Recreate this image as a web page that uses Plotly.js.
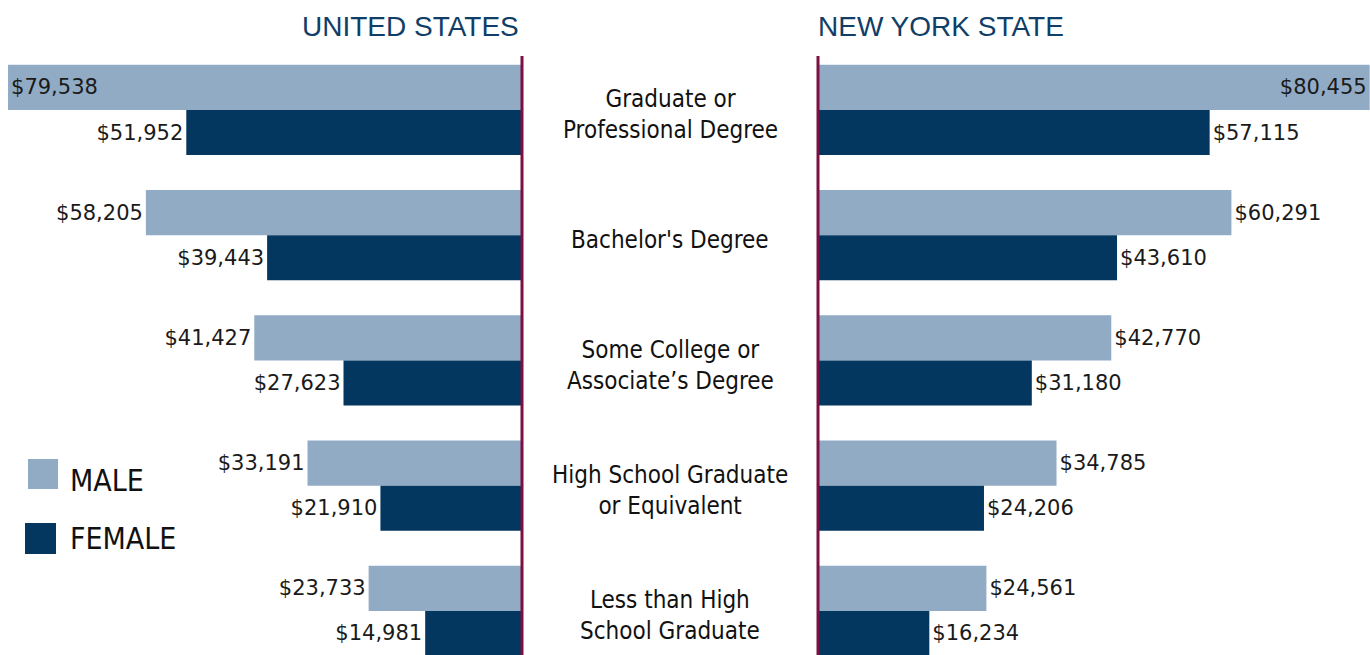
<!DOCTYPE html>
<html>
<head>
<meta charset="utf-8">
<script src="https://cdn.plot.ly/plotly-3.0.1.min.js"></script>
<style>html,body{margin:0;padding:0;background:#fff;}#chart{width:1370px;height:655px;}</style>
</head>
<body>
<div id="chart"></div>
<script>
const categories = ['Graduate or Professional Degree', "Bachelor's Degree", 'Some College or Associate’s Degree', 'High School Graduate or Equivalent', 'Less than High School Graduate'];
const categoryLabels = ['Graduate or<br>Professional Degree', "Bachelor's Degree", 'Some College or<br>Associate’s Degree', 'High School Graduate<br>or Equivalent', 'Less than High<br>School Graduate'];
const usMale = [79538, 58205, 41427, 33191, 23733];
const usFemale = [51952, 39443, 27623, 21910, 14981];
const nyMale = [80455, 60291, 42770, 34785, 24561];
const nyFemale = [57115, 43610, 31180, 24206, 16234];
const panelTitles = ['UNITED STATES', 'NEW YORK STATE'];
const seriesNames = ['MALE', 'FEMALE'];

const maleColor = '#91abc5';
const femaleColor = '#03375f';
const lineColor = '#7d1040';
const titleColor = '#103e67';
const valFont = {family: '"DejaVu Sans", sans-serif', size: 21, color: '#1a1a1a'};

function barTrace(vals, name, color, xaxis, offset, textpos) {
  return {
    type: 'bar', orientation: 'h', name: name,
    x: vals, y: categories, xaxis: xaxis, yaxis: 'y',
    marker: {color: color, line: {width: 0}},
    width: 0.36, offset: offset,
    texttemplate: '$%{x:,.0f}', textposition: textpos, insidetextanchor: 'end',
    textfont: valFont, insidetextfont: valFont, outsidetextfont: valFont,
    constraintext: 'none', cliponaxis: false,
    showlegend: false, hoverinfo: 'skip'
  };
}

const posMale = usMale.map((v, i) => i === 0 ? 'inside' : 'outside');
const posNyMale = nyMale.map((v, i) => i === 0 ? 'inside' : 'outside');
const posOut = categories.map(() => 'outside');

const data = [
  barTrace(usMale, seriesNames[0], maleColor, 'x', -0.36, posMale),
  barTrace(usFemale, seriesNames[1], femaleColor, 'x', 0, posOut),
  barTrace(nyMale, seriesNames[0], maleColor, 'x2', -0.36, posNyMale),
  barTrace(nyFemale, seriesNames[1], femaleColor, 'x2', 0, posOut)
];

const W = 1370, H = 655;
const leftEdge = 522 / W, rightEdge = 818 / W;
const lineTop = 1 - 56 / H;

const titleFont = {family: '"Liberation Sans", Arial, sans-serif', size: 28, color: titleColor};
const legFont = {family: '"DejaVu Sans Condensed", "DejaVu Sans", sans-serif', size: 30, color: '#111'};
const annotations = [
  {text: panelTitles[0], xref: 'paper', yref: 'paper', x: 521 / W, y: 1 - 26 / H, xanchor: 'right', yanchor: 'middle', showarrow: false, font: titleFont},
  {text: panelTitles[1], xref: 'paper', yref: 'paper', x: 816 / W, y: 1 - 26 / H, xanchor: 'left', yanchor: 'middle', showarrow: false, font: titleFont},
  {text: seriesNames[0], xref: 'paper', yref: 'paper', x: 68 / W, y: 1 - 480 / H, xanchor: 'left', yanchor: 'middle', showarrow: false, font: legFont},
  {text: seriesNames[1], xref: 'paper', yref: 'paper', x: 68 / W, y: 1 - 538 / H, xanchor: 'left', yanchor: 'middle', showarrow: false, font: legFont}
];
categories.forEach((c, i) => {
  annotations.push({text: categoryLabels[i], xref: 'paper', yref: 'y', x: 670 / W, y: i, yshift: -5,
    xanchor: 'center', yanchor: 'middle', showarrow: false, align: 'center',
    font: {family: '"DejaVu Sans Condensed", "DejaVu Sans", sans-serif', size: 24, color: '#111'}});
});

const shapes = [
  {type: 'line', xref: 'paper', yref: 'paper', x0: leftEdge, x1: leftEdge, y0: 0, y1: lineTop, line: {color: lineColor, width: 3}},
  {type: 'line', xref: 'paper', yref: 'paper', x0: rightEdge, x1: rightEdge, y0: 0, y1: lineTop, line: {color: lineColor, width: 3}},
  {type: 'rect', xref: 'paper', yref: 'paper', x0: 28 / W, x1: 58 / W, y0: 1 - 489 / H, y1: 1 - 459 / H, fillcolor: maleColor, line: {width: 0}},
  {type: 'rect', xref: 'paper', yref: 'paper', x0: 25 / W, x1: 56 / W, y0: 1 - 554 / H, y1: 1 - 523 / H, fillcolor: femaleColor, line: {width: 0}}
];

const layout = {
  width: W, height: H,
  margin: {l: 0, r: 0, t: 0, b: 0},
  paper_bgcolor: '#fff', plot_bgcolor: 'rgba(0,0,0,0)',
  barmode: 'overlay',
  showlegend: false,
  xaxis: {domain: [0, leftEdge], range: [80780, 0], visible: false, fixedrange: true},
  xaxis2: {domain: [rightEdge, 1], range: [0, 80500], visible: false, fixedrange: true, anchor: 'y'},
  yaxis: {domain: [0, 1], type: 'category', range: [4.352, -0.878], showticklabels: false, showgrid: false, zeroline: false, showline: false, ticks: '', fixedrange: true},
  annotations: annotations,
  shapes: shapes
};

Plotly.newPlot('chart', data, layout, {displayModeBar: false, staticPlot: true});
</script>
</body>
</html>
